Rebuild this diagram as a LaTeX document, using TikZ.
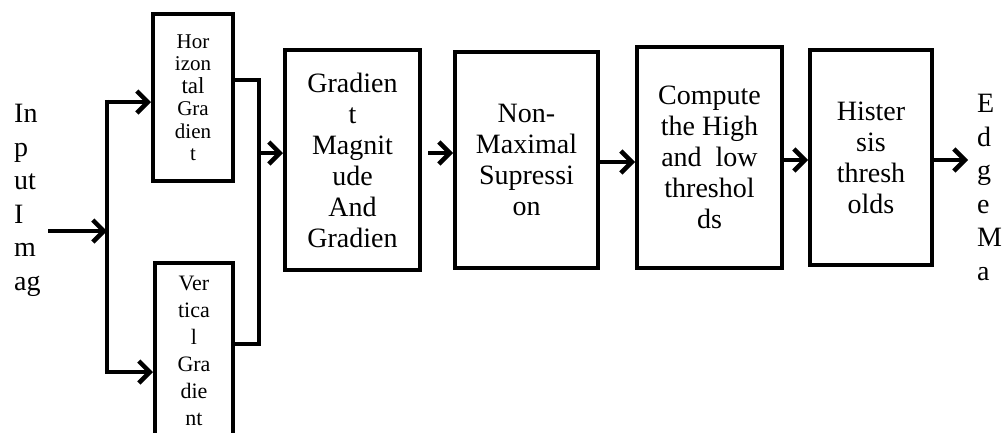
\documentclass[tikz,border=0pt]{standalone}
\usepackage{fontspec}
\setmainfont{Liberation Serif}
\usetikzlibrary{arrows.meta}
\begin{document}
\begin{tikzpicture}[x=1pt,y=-1pt,
  blk/.style={draw,line width=4pt,rectangle,inner sep=0pt,align=center,
    font=\fontsize{28}{31}\selectfont},
  small/.style={blk,font=\fontsize{21}{22.5}\selectfont},
  wire/.style={line width=4.5pt},
  arr/.style={wire,-{Straight Barb[length=11pt,width=22pt,line width=4.5pt]}},
  side/.style={align=left,inner sep=0pt,anchor=base west,font=\fontsize{28}{33.5}\selectfont}]
\useasboundingbox (0,0) rectangle (1008,432);
\begin{scope}
\clip (0,0) rectangle (1008,432);
% boxes
\node[small,minimum width=80pt,minimum height=167pt] (H) at (193,97.5)
  {Hor\\izon\\{\fontsize{23}{22.5}\selectfont tal}\\Gra\\dien\\t};
\node[small,minimum width=78pt,minimum height=176pt,font=\fontsize{22}{27}\selectfont] (V) at (194,351)
  {Ver\\tica\\l\\Gra\\die\\nt};
\node[blk,minimum width=135pt,minimum height=220pt] (G) at (352.5,160)
  {Gradien\\t\\Magnit\\ude\\And\\Gradien};
\node[blk,minimum width=143pt,minimum height=216pt] (N) at (526.5,160)
  {Non-\\Maximal\\Supressi\\on};
\node[blk,minimum width=145pt,minimum height=221pt] (C) at (709.5,157.5)
  {Compute\\the High\\and~ low\\threshol\\ds};
\node[blk,minimum width=122pt,minimum height=215pt] (S) at (871,157.5)
  {Hister\\sis\\thresh\\olds};
% side texts
\node[side] (IN) at (14,290) {In\\p\\ut\\I\\m\\ag};
\node[side] (OUT) at (977,280) {E\\d\\g\\e\\M\\a};
% coordinates
\coordinate (in0) at (48,231);
\coordinate (sp) at (107,231);
\coordinate (bt) at (107,102);
\coordinate (bb) at (107,372);
\coordinate (jt) at (257,80);
\coordinate (jb) at (257,344);
\coordinate (jm) at (257,153);
\coordinate (g0) at (428,153);
\coordinate (out) at (968,160);
% connectors
\draw[arr] (in0) -- (sp);
\draw[wire] ([yshift=2.2pt]bt) -- ([yshift=-2.2pt]bb);
\draw[arr] ([xshift=-2.2pt]bt) -- (bt -| H.west);
\draw[arr] ([xshift=-2.2pt]bb) -- (bb -| V.west);
\draw[wire] (jt -| H.east) -- ([xshift=2.2pt]jt) -- ([xshift=2.2pt]jb) -- (jb -| V.east);
\draw[arr] (jm) -- (jm -| G.west);
\draw[arr] (g0) -- (g0 -| N.west);
\draw[arr] (N.east |- 0,162) -- (C.west |- 0,162);
\draw[arr] (C.east |- 0,160) -- (S.west |- 0,160);
\draw[arr] (S.east |- out) -- (out);
\end{scope}
\end{tikzpicture}
\end{document}
